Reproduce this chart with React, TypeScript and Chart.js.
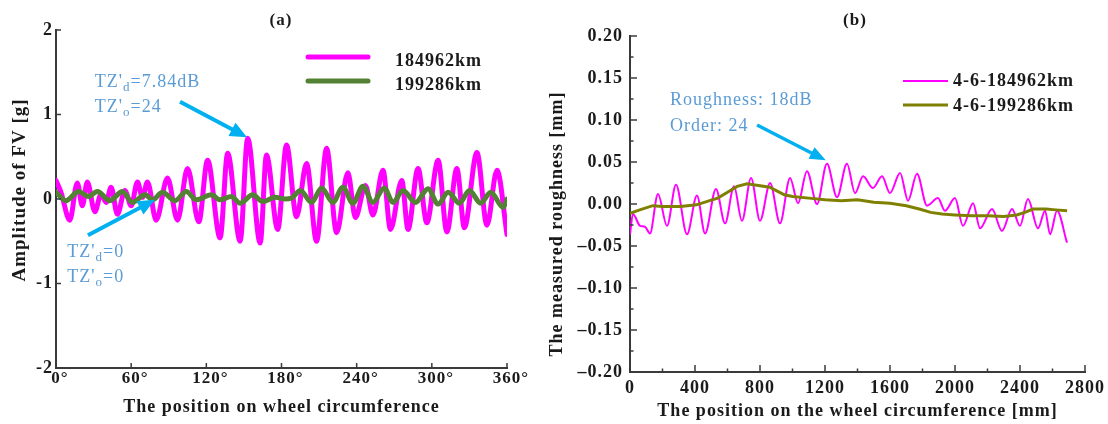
import React, { useEffect, useRef } from "react";
import { Chart, registerables } from "chart.js";

Chart.register(...registerables);

// ---------------- Panel (a) data ----------------
const aXTicks = [0, 60, 120, 180, 240, 300, 360];
const aYTicks = [-2, -1, 0, 1, 2];
const aLabels = ["184962km", "199286km"];

const aDeg184962 = [0, 4, 11, 17, 21, 25, 31, 36, 40, 44, 49, 55, 60, 65, 69, 73, 80, 89, 97, 105, 114, 121, 131, 137, 147, 153, 163, 168, 177, 184, 192, 200, 208, 216, 224, 233, 239, 247, 253, 261, 267, 276, 281, 289, 296, 305, 312, 320, 326, 336, 344, 352, 360];
const aVal184962 = [0.22, 0.08, -0.25, 0.19, -0.08, 0.2, -0.15, 0.06, -0.04, 0.14, -0.18, 0.1, -0.08, 0.2, 0.02, 0.2, -0.25, 0.25, -0.25, 0.36, -0.27, 0.46, -0.46, 0.54, -0.5, 0.72, -0.52, 0.52, -0.36, 0.64, -0.21, 0.42, -0.5, 0.6, -0.4, 0.31, -0.22, 0.16, -0.19, 0.34, -0.36, 0.22, -0.36, 0.36, -0.28, 0.46, -0.39, 0.36, -0.34, 0.55, -0.31, 0.34, -0.42];

const aDeg199286 = [0, 8, 18, 26, 33, 43, 53, 61, 71, 77, 85, 95, 104, 112, 124, 131, 140, 147, 157, 165, 175, 183, 188, 195, 204, 212, 221, 229, 237, 245, 253, 262, 269, 277, 287, 297, 305, 313, 322, 330, 339, 347, 357, 360];
const aVal199286 = [0.08, -0.02, 0.09, 0.03, 0.09, -0.02, 0.09, -0.04, 0.05, -0.01, 0.08, -0.02, 0.09, -0.01, 0.05, -0.01, 0.03, -0.05, 0.05, -0.03, 0.02, 0.0, 0.01, 0.1, -0.04, 0.13, -0.04, 0.14, -0.05, 0.15, -0.04, 0.13, -0.04, 0.1, -0.04, 0.12, -0.06, 0.08, -0.05, 0.1, -0.05, 0.08, -0.1, 0.0];

// ---------------- Panel (b) data ----------------
const bXTicks = [0, 400, 800, 1200, 1600, 2000, 2400, 2800];
const bYTicks = [-0.2, -0.15, -0.1, -0.05, 0, 0.05, 0.1, 0.15, 0.2];
const bLabels = ["4-6-184962km", "4-6-199286km"];

const bPos184962 = [0, 18, 62, 92, 123, 172, 228, 283, 351, 412, 462, 529, 585, 640, 689, 745, 800, 862, 923, 985, 1034, 1089, 1151, 1212, 1274, 1335, 1385, 1434, 1495, 1551, 1600, 1662, 1711, 1766, 1828, 1895, 1938, 2000, 2049, 2111, 2154, 2228, 2289, 2351, 2400, 2449, 2511, 2554, 2585, 2628, 2689];
const bVal184962 = [-0.036, -0.012, -0.026, -0.027, -0.035, 0.012, -0.026, 0.023, -0.036, 0.01, -0.035, 0.018, -0.023, 0.021, -0.02, 0.031, -0.02, 0.025, -0.023, 0.031, 0.001, 0.039, 0.0, 0.048, 0.008, 0.048, 0.013, 0.033, 0.019, 0.033, 0.013, 0.037, 0.004, 0.036, -0.002, 0.007, -0.008, 0.007, -0.026, 0.001, -0.029, -0.006, -0.032, -0.006, -0.026, 0.006, -0.029, -0.008, -0.036, -0.008, -0.046];

const bPos199286 = [0, 60, 140, 200, 310, 410, 490, 540, 600, 660, 720, 790, 860, 900, 950, 1000, 1100, 1200, 1300, 1400, 1500, 1600, 1700, 1780, 1850, 1920, 2000, 2100, 2200, 2300, 2380, 2430, 2480, 2560, 2620, 2690];
const bVal199286 = [-0.011, -0.007, -0.002, -0.003, -0.003, -0.001, 0.004, 0.007, 0.014, 0.021, 0.024, 0.022, 0.02, 0.016, 0.011, 0.009, 0.007, 0.005, 0.004, 0.005, 0.002, 0.001, -0.002, -0.006, -0.01, -0.012, -0.013, -0.014, -0.014, -0.015, -0.013, -0.01, -0.006, -0.006, -0.007, -0.008];

// ---------------- styling ----------------
const SERIF = '"Liberation Serif", "Times New Roman", serif';
const TXT = "#1a1a1a";
const AX = "#3a3a3a";
const NOTE = "#5B9BD5";
const ARROW = "#00B0F0";

const toPts = (xs: number[], ys: number[]) => xs.map((x, i) => ({ x, y: ys[i] }));

type Part = { t: string; sub?: boolean };
type Spec = {
  minor: boolean;
  tickLen: number;
  yTitle: { text: string; x: number; y: number; size: number };
  panel: { text: string; x: number; y: number };
  legend: { x1: number; x2: number; tx: number; ys: number[]; ty: number[]; size: number; round: boolean };
  notes: { x: number; y: number; size: number; parts: Part[] }[];
  arrows: { from: [number, number]; to: [number, number]; w: number; hl: number; hw: number }[];
};

function decor(spec: Spec) {
  return {
    id: "decor",
    beforeUpdate(chart: any) {
      chart.ctx.letterSpacing = "1px";
    },
    beforeDraw(chart: any) {
      const c = chart.ctx;
      c.letterSpacing = "1px";
      c.save();
      c.fillStyle = "#ffffff";
      c.fillRect(0, 0, chart.width, chart.height);
      c.restore();
    },
    afterDraw(chart: any) {
      const c = chart.ctx;
      const sx = chart.scales.x;
      const sy = chart.scales.y;
      const { left, bottom } = chart.chartArea;
      c.save();
      c.letterSpacing = "1px";
      // inward ticks
      c.strokeStyle = AX;
      c.lineWidth = 1.5;
      const xs = sx.ticks.map((t: any) => t.value);
      const ys = sy.ticks.map((t: any) => t.value);
      const tick = (vals: number[], len: number, isX: boolean) => {
        vals.forEach((v) => {
          c.beginPath();
          if (isX) {
            const p = sx.getPixelForValue(v);
            c.moveTo(p, bottom);
            c.lineTo(p, bottom - len);
          } else {
            const p = sy.getPixelForValue(v);
            c.moveTo(left, p);
            c.lineTo(left + len, p);
          }
          c.stroke();
        });
      };
      tick(xs, spec.tickLen, true);
      tick(ys, spec.tickLen, false);
      if (spec.minor) {
        const mid = (a: number[]) => a.slice(1).map((v, i) => (v + a[i]) / 2);
        tick(mid(xs), spec.tickLen / 2, true);
        tick(mid(ys), spec.tickLen / 2, false);
      }
      // y title
      c.fillStyle = TXT;
      c.font = `bold ${spec.yTitle.size}px ${SERIF}`;
      c.textAlign = "center";
      c.textBaseline = "middle";
      c.save();
      c.translate(spec.yTitle.x, spec.yTitle.y);
      c.rotate(-Math.PI / 2);
      c.fillText(spec.yTitle.text, 0, 0);
      c.restore();
      // panel label
      c.font = `bold 17px ${SERIF}`;
      c.fillText(spec.panel.text, spec.panel.x, spec.panel.y);
      // legend
      const L = spec.legend;
      chart.data.datasets.forEach((ds: any, i: number) => {
        c.strokeStyle = ds.borderColor;
        c.lineWidth = ds.borderWidth;
        c.lineCap = L.round ? "round" : "butt";
        c.beginPath();
        c.moveTo(L.x1, L.ys[i]);
        c.lineTo(L.x2, L.ys[i]);
        c.stroke();
        c.fillStyle = TXT;
        c.font = `bold ${L.size}px ${SERIF}`;
        c.textAlign = "left";
        c.textBaseline = "middle";
        c.fillText(ds.label, L.tx, L.ty[i]);
      });
      // notes
      c.fillStyle = NOTE;
      c.textAlign = "left";
      c.textBaseline = "middle";
      spec.notes.forEach((n) => {
        let x = sx.getPixelForValue(n.x);
        const y = sy.getPixelForValue(n.y);
        n.parts.forEach((p) => {
          const size = p.sub ? Math.round(n.size * 0.72) : n.size;
          c.font = `${size}px ${SERIF}`;
          c.fillText(p.t, x, p.sub ? y + 5 : y);
          x += c.measureText(p.t).width;
        });
      });
      // arrows
      spec.arrows.forEach((a) => {
        const x1 = sx.getPixelForValue(a.from[0]);
        const y1 = sy.getPixelForValue(a.from[1]);
        const x2 = sx.getPixelForValue(a.to[0]);
        const y2 = sy.getPixelForValue(a.to[1]);
        const ang = Math.atan2(y2 - y1, x2 - x1);
        const bx = x2 - a.hl * Math.cos(ang);
        const by = y2 - a.hl * Math.sin(ang);
        c.strokeStyle = ARROW;
        c.fillStyle = ARROW;
        c.lineWidth = a.w;
        c.lineCap = "butt";
        c.beginPath();
        c.moveTo(x1, y1);
        c.lineTo(bx + Math.cos(ang), by + Math.sin(ang));
        c.stroke();
        const px = -Math.sin(ang) * a.hw / 2;
        const py = Math.cos(ang) * a.hw / 2;
        c.beginPath();
        c.moveTo(x2, y2);
        c.lineTo(bx + px, by + py);
        c.lineTo(bx - px, by - py);
        c.closePath();
        c.fill();
      });
      c.restore();
    },
  };
}

function axisCommon(size: number) {
  return {
    type: "linear" as const,
    grid: { display: false, drawTicks: false },
    border: { display: true, color: AX, width: 2 },
  };
}

function configA(): any {
  const W = 540;
  return {
    type: "line",
    data: {
      datasets: [
        {
          label: aLabels[0],
          data: toPts(aDeg184962, aVal184962),
          borderColor: "#FF00FF",
          borderWidth: 5,
          pointRadius: 0,
          cubicInterpolationMode: "monotone",
          borderJoinStyle: "round",
          borderCapStyle: "round",
          order: 2,
        },
        {
          label: aLabels[1],
          data: toPts(aDeg199286, aVal199286),
          borderColor: "#548235",
          borderWidth: 5,
          pointRadius: 0,
          cubicInterpolationMode: "monotone",
          borderJoinStyle: "round",
          borderCapStyle: "round",
          order: 1,
        },
      ],
    },
    options: {
      responsive: false,
      animation: false,
      events: [],
      layout: { padding: { left: 0, top: 30, right: W - 507, bottom: 0 } },
      plugins: { legend: { display: false }, tooltip: { enabled: false } },
      scales: {
        x: {
          ...axisCommon(17),
          min: 0,
          max: 360,
          afterBuildTicks: (s: any) => {
            s.ticks = aXTicks.map((v) => ({ value: v }));
          },
          afterFit: (s: any) => {
            s.height = 56;
            s.paddingLeft = 0;
            s.paddingRight = 0;
          },
          ticks: {
            font: { family: SERIF, size: 17, weight: "bold" },
            color: TXT,
            padding: 0,
            labelOffset: 4,
            maxRotation: 0,
            autoSkip: false,
            callback: (v: any) => `${v}°`,
          },
          title: {
            display: true,
            text: "The position on wheel circumference",
            font: { family: SERIF, size: 18, weight: "bold" },
            color: TXT,
            padding: { top: 0, bottom: 6 },
          },
        },
        y: {
          ...axisCommon(18),
          min: -2,
          max: 2,
          afterBuildTicks: (s: any) => {
            s.ticks = aYTicks.map((v) => ({ value: v }));
          },
          afterFit: (s: any) => {
            s.width = 56;
            s.paddingTop = 0;
            s.paddingBottom = 0;
          },
          ticks: {
            font: { family: SERIF, size: 18, weight: "bold" },
            color: TXT,
            padding: 3,
            autoSkip: false,
            callback: (v: any) => `${v}`,
          },
        },
      },
    },
    plugins: [
      decor({
        minor: false,
        tickLen: 5,
        yTitle: { text: "Amplitude of FV [g]", x: 20, y: 190, size: 19 },
        panel: { text: "(a)", x: 281, y: 21 },
        legend: { x1: 308, x2: 368, tx: 395, ys: [57, 81], ty: [61, 85], size: 18, round: true },
        notes: [
          { x: 31, y: 1.38, size: 18, parts: [{ t: "TZ'" }, { t: "d", sub: true }, { t: "=7.84dB" }] },
          { x: 31, y: 1.08, size: 18, parts: [{ t: "TZ'" }, { t: "o", sub: true }, { t: "=24" }] },
          { x: 9, y: -0.63, size: 18, parts: [{ t: "TZ'" }, { t: "d", sub: true }, { t: "=0" }] },
          { x: 9, y: -0.93, size: 18, parts: [{ t: "TZ'" }, { t: "o", sub: true }, { t: "=0" }] },
        ],
        arrows: [
          { from: [99, 1.15], to: [152.5, 0.73], w: 4, hl: 17, hw: 15 },
          { from: [25.5, -0.43], to: [79, -0.01], w: 4, hl: 17, hw: 15 },
        ],
      }),
    ],
  };
}

function configB(): any {
  const W = 568;
  const fmt = (v: number) => (Math.abs(v) < 1e-9 ? "0.00" : v < 0 ? "\u2013" + Math.abs(v).toFixed(2) : v.toFixed(2));
  return {
    type: "line",
    data: {
      datasets: [
        {
          label: bLabels[0],
          data: toPts(bPos184962, bVal184962),
          borderColor: "#FF00FF",
          borderWidth: 2,
          pointRadius: 0,
          cubicInterpolationMode: "monotone",
          order: 2,
        },
        {
          label: bLabels[1],
          data: toPts(bPos199286, bVal199286),
          borderColor: "#808000",
          borderWidth: 3,
          pointRadius: 0,
          tension: 0,
          order: 1,
        },
      ],
    },
    options: {
      responsive: false,
      animation: false,
      events: [],
      layout: { padding: { left: 0, top: 36, right: W - 545, bottom: 0 } },
      plugins: { legend: { display: false }, tooltip: { enabled: false } },
      scales: {
        x: {
          ...axisCommon(18),
          min: 0,
          max: 2800,
          afterBuildTicks: (s: any) => {
            s.ticks = bXTicks.map((v) => ({ value: v }));
          },
          afterFit: (s: any) => {
            s.height = 52;
            s.paddingLeft = 0;
            s.paddingRight = 0;
          },
          ticks: {
            font: { family: SERIF, size: 18, weight: "bold" },
            color: TXT,
            padding: 6,
            maxRotation: 0,
            autoSkip: false,
            callback: (v: any) => `${v}`,
          },
          title: {
            display: true,
            text: "The position on the wheel circumference [mm]",
            font: { family: SERIF, size: 18, weight: "bold" },
            color: TXT,
            padding: { top: 0, bottom: 2 },
          },
        },
        y: {
          ...axisCommon(18),
          min: -0.2,
          max: 0.2,
          afterBuildTicks: (s: any) => {
            s.ticks = bYTicks.map((v) => ({ value: v }));
          },
          afterFit: (s: any) => {
            s.width = 90;
            s.paddingTop = 0;
            s.paddingBottom = 0;
          },
          ticks: {
            font: { family: SERIF, size: 18, weight: "bold" },
            color: TXT,
            padding: 7,
            autoSkip: false,
            callback: (v: any) => fmt(Number(v)),
          },
        },
      },
    },
    plugins: [
      decor({
        minor: true,
        tickLen: 7,
        yTitle: { text: "The measured roughness [mm]", x: 17, y: 224, size: 18 },
        panel: { text: "(b)", x: 315, y: 21 },
        legend: { x1: 363, x2: 408, tx: 413, ys: [81, 105], ty: [81, 106], size: 18, round: false },
        notes: [
          { x: 246, y: 0.124, size: 18, parts: [{ t: "Roughness: 18dB" }] },
          { x: 246, y: 0.093, size: 18, parts: [{ t: "Order: 24" }] },
        ],
        arrows: [{ from: [782, 0.094], to: [1205, 0.052], w: 3.5, hl: 16, hw: 13 }],
      }),
    ],
  };
}

export default function App() {
  const refA = useRef<HTMLCanvasElement>(null);
  const refB = useRef<HTMLCanvasElement>(null);
  useEffect(() => {
    const a = new Chart(refA.current as HTMLCanvasElement, configA());
    const b = new Chart(refB.current as HTMLCanvasElement, configB());
    return () => {
      a.destroy();
      b.destroy();
    };
  }, []);
  return (
    <div style={{ position: "absolute", left: 0, top: 0, width: 1108, height: 424, background: "#fff" }}>
      <canvas ref={refA} width={540} height={424} style={{ position: "absolute", left: 0, top: 0 }} />
      <canvas ref={refB} width={568} height={424} style={{ position: "absolute", left: 540, top: 0 }} />
    </div>
  );
}
